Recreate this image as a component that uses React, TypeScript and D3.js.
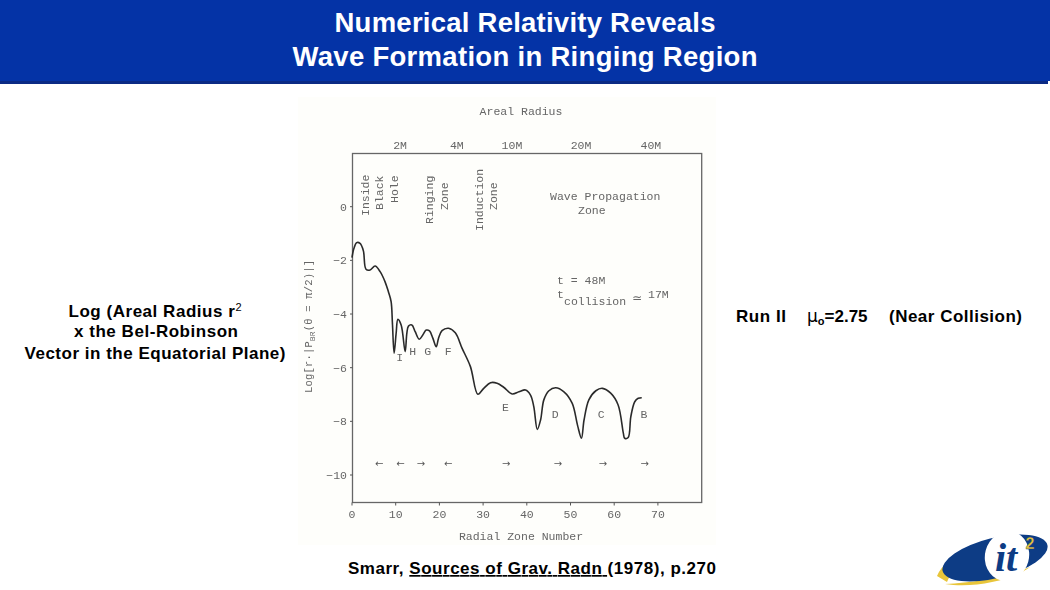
import * as d3 from "d3"

const zoneValues = [0, 0.45, 1.07, 1.84, 2.6, 3.2, 4.13, 5.28, 6.43, 7.57, 8.33, 8.95, 9.25, 9.64, 10.1, 10.5, 11.25, 12.16, 12.55, 12.92, 13.7, 14.46, 15.38, 16.2, 16.98, 17.74, 18.5, 19.28, 19.8, 20.6, 22.1, 23.64, 25.2, 27.1, 28.8, 30.15, 31.7, 33.2, 34.7, 36.65, 38.2, 39.7, 40.85, 41.6, 42.4, 43.15, 43.9, 45.06, 46.6, 48.5, 50.4, 51.6, 52.5, 53.1, 54.2, 55.8, 57.3, 59.2, 60.9, 62.1, 62.4, 63.2, 63.8, 64.7, 65.5, 66.3]
const logValues = [-1.9, -1.55, -1.34, -1.37, -1.64, -2.33, -2.36, -2.21, -2.42, -2.8, -3.17, -3.54, -4.35, -5.46, -4.72, -4.2, -4.41, -5.4, -4.72, -4.45, -4.41, -4.66, -4.94, -4.78, -4.6, -4.63, -4.9, -5.22, -4.9, -4.62, -4.53, -4.7, -5.28, -5.96, -6.99, -6.77, -6.56, -6.58, -6.73, -6.98, -6.9, -6.83, -7.02, -7.45, -8.3, -7.95, -7.2, -6.86, -6.75, -6.9, -7.33, -8.14, -8.63, -7.95, -7.2, -6.86, -6.77, -6.95, -7.39, -8.45, -8.63, -8.6, -7.83, -7.27, -7.14, -7.12]

const xTicks = [0, 10, 20, 30, 40, 50, 60, 70]
const yTicks = [0, -2, -4, -6, -8, -10]
const radiusLabels = ["2M", "4M", "10M", "20M", "40M"]
const radiusZones = [11, 24, 36.6, 52.4, 68.4]

const arrowZones = [6.2, 11.1, 15.8, 22, 35.3, 47.1, 57.4, 67]
const arrowDirs = ["←", "←", "→", "←", "→", "→", "→", "→"]

const peakLabels = ["I", "H", "G", "F", "E", "D", "C", "B"]
const peakZones = [10.9, 13.9, 17.3, 22, 35.1, 46.5, 57, 66.8]
const peakLogs = [-5.62, -5.37, -5.37, -5.37, -7.45, -7.73, -7.73, -7.73]

const x = d3.scaleLinear().domain([0, 80]).range([352, 701.6])
const y = d3.scaleLinear().domain([0, -10]).range([206.7, 475])

const curve = d3
  .line<number>()
  .x((d) => x(d))
  .y((_, i) => y(logValues[i]))
  .curve(d3.curveCatmullRom.alpha(0.5))

const plotTop = 153.5
const plotBottom = 502.5
const mono = "'Liberation Mono', 'DejaVu Sans Mono', monospace"
const sans = "'Liberation Sans', Arial, sans-serif"
const ink = "#666"
const typeSize = 11.5

function Vertical({ x: px, y: py, children }: { x: number; y: number; children: string }) {
  return (
    <text transform={`translate(${px},${py}) rotate(-90)`} fontFamily={mono} fontSize={typeSize} fill={ink}>
      {children}
    </text>
  )
}

export default function App() {
  return (
    <svg
      width={1050}
      height={590}
      viewBox="0 0 1050 590"
      style={{ position: "absolute", left: 0, top: 0, background: "#fff" }}
    >
      <defs>
        <filter id="scan" x="-5%" y="-5%" width="110%" height="110%">
          <feGaussianBlur stdDeviation="0.4" />
        </filter>
      </defs>

      {/* header */}
      <rect x={0} y={0} width={1050} height={81} fill="#0433a6" />
      <rect x={0} y={81} width={1048} height={3} fill="#0b2a84" />
      <g fontFamily={sans} fontSize={27.5} fontWeight="bold" fill="#fff" textAnchor="middle">
        <text x={525} y={32} textLength={381}>Numerical Relativity Reveals</text>
        <text x={525} y={66} textLength={465}>Wave Formation in Ringing Region</text>
      </g>

      {/* scanned figure */}
      <rect x={298} y={97} width={418} height={448} fill="#fefefb" />
      <g filter="url(#scan)">
        <rect x={352.5} y={plotTop} width={349.2} height={plotBottom - plotTop} fill="none" stroke="#666" strokeWidth={1.3} />

        {xTicks.map((t) => (
          <g key={t}>
            <line x1={x(t)} x2={x(t)} y1={plotBottom} y2={plotBottom + 3} stroke="#555" />
            <text x={x(t)} y={518} textAnchor="middle" fontFamily={mono} fontSize={typeSize} fill={ink}>{t}</text>
          </g>
        ))}
        {yTicks.map((t) => (
          <g key={t}>
            <line x1={352.5} x2={350} y1={y(t)} y2={y(t)} stroke="#555" />
            <text x={347} y={y(t) + 4} textAnchor="end" fontFamily={mono} fontSize={typeSize} fill={ink}>
              {t === 0 ? "0" : `−${-t}`}
            </text>
          </g>
        ))}

        {radiusLabels.map((d, i) => (
          <text key={d} x={x(radiusZones[i])} y={149} textAnchor="middle" fontFamily={mono} fontSize={typeSize} fill={ink}>{d}</text>
        ))}
        <text x={521} y={115} textAnchor="middle" fontFamily={mono} fontSize={typeSize} fill={ink}>Areal Radius</text>
        <text x={521} y={540} textAnchor="middle" fontFamily={mono} fontSize={typeSize} fill={ink}>Radial Zone Number</text>

        <Vertical x={369} y={216}>Inside</Vertical>
        <Vertical x={383} y={210}>Black</Vertical>
        <Vertical x={398} y={203}>Hole</Vertical>
        <Vertical x={433} y={224}>Ringing</Vertical>
        <Vertical x={448} y={210}>Zone</Vertical>
        <Vertical x={483} y={231}>Induction</Vertical>
        <Vertical x={497} y={210}>Zone</Vertical>

        <g fontFamily={mono} fontSize={typeSize} fill={ink}>
          <text x={550} y={200}>Wave Propagation</text>
          <text x={578} y={214}>Zone</text>
          <text x={557} y={284}>t = 48M</text>
          <text x={557} y={298}>t</text>
          <text x={564} y={305}>collision</text>
          <text x={632} y={302} fontFamily="'DejaVu Sans', sans-serif" fontSize={12}>≃</text>
          <text x={648} y={298}>17M</text>
        </g>

        <text
          transform="translate(312,393) rotate(-90)"
          fontFamily={mono}
          fontSize={10.5}
          fill={ink}
          textLength={133}
        >
          Log[r·|P
          <tspan fontSize={8} dy={3}>BR</tspan>
          <tspan dy={-3}>(θ = π/2)|]</tspan>
        </text>

        <path d={curve(zoneValues) ?? ""} fill="none" stroke="#2b2b2b" strokeWidth={1.6} strokeLinejoin="round" />

        {peakLabels.map((d, i) => (
          <text key={d} x={x(peakZones[i])} y={y(peakLogs[i]) + 4} textAnchor="middle" fontFamily={mono} fontSize={typeSize} fill={ink}>{d}</text>
        ))}
        {arrowZones.map((z, i) => (
          <text key={i} x={x(z)} y={y(-9.58)} textAnchor="middle" dominantBaseline="middle" fontFamily="'DejaVu Sans', sans-serif" fontSize={10} fill="#555">
            {arrowDirs[i]}
          </text>
        ))}
      </g>

      {/* left caption */}
      <g fontFamily={sans} fontSize={17} fontWeight="bold" fill="#000" textAnchor="middle">
        <text x={155} y={317} textLength={173}>
          Log (Areal Radius r<tspan fontSize={11} fontWeight="normal" dy={-6}>2</tspan>
        </text>
        <text x={156} y={337} textLength={164}>x the Bel-Robinson</text>
        <text x={155} y={359} textLength={261}>Vector in the Equatorial Plane)</text>
      </g>

      {/* right caption */}
      <g fontFamily={sans} fontSize={17} fontWeight="bold" fill="#000">
        <text x={736} y={322} textLength={50}>Run II</text>
        <text x={807} y={322}>
          <tspan fontFamily="'DejaVu Sans', sans-serif" fontWeight="normal">μ</tspan>
          <tspan fontSize={11} dy={3}>o</tspan>
          <tspan dy={-3}>=2.75</tspan>
        </text>
        <text x={889} y={322} textLength={133}>(Near Collision)</text>
      </g>

      {/* citation */}
      <text x={348} y={574} fontFamily={sans} fontSize={17} fontWeight="bold" fill="#000" textLength={368}>
        Smarr, <tspan textDecoration="underline">Sources of Grav. Radn </tspan>(1978), p.270
      </text>

      {/* logo */}
      <g>
        <path d="M937,576 C948,552 985,537 1032,535 C995,541 958,556 947,582 Z" fill="#e8c53a" />
        <path d="M945,584 C975,589 1015,579 1030,567 C1010,576 975,583 945,584 Z" fill="#e8c53a" />
        <ellipse cx={995} cy={558} rx={54} ry={20} transform="rotate(-14 995 558)" fill="#0d3c85" />
        <ellipse cx={1007} cy={556} rx={22} ry={25} transform="rotate(15 1007 556)" fill="#fff" />
        <text x={1006} y={571} textAnchor="middle" fontFamily="'Liberation Serif', serif" fontStyle="italic" fontWeight="bold" fontSize={40} fill="#0d3c85">it</text>
        <text x={1030} y={549} textAnchor="middle" fontFamily={sans} fontWeight="bold" fontSize={16} fill="#e8c53a" stroke="#0d3c85" strokeWidth={0.3}>2</text>
      </g>
    </svg>
  )
}
